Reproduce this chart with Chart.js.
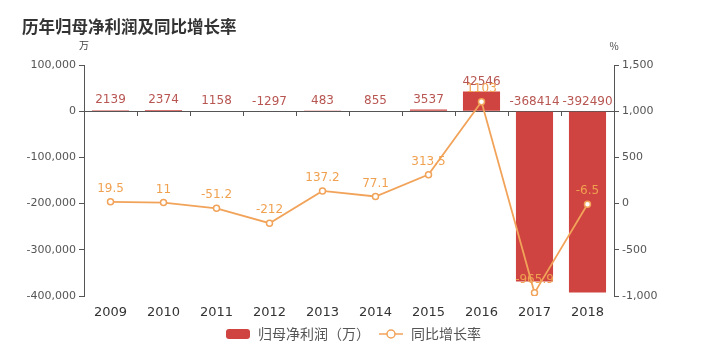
<!DOCTYPE html>
<html>
<head>
<meta charset="utf-8">
<script src="https://cdn.jsdelivr.net/npm/chart.js@4/dist/chart.umd.min.js"></script>
<style>
  html, body { margin: 0; padding: 0; background: #fff; }
  #wrap { width: 706px; height: 361px; position: relative; }
</style>
</head>
<body>
<div id="wrap"><canvas id="c" width="706" height="361"></canvas></div>
<script>
const years = ['2009', '2010', '2011', '2012', '2013', '2014', '2015', '2016', '2017', '2018'];
const profit = [2139, 2374, 1158, -1297, 483, 855, 3537, 42546, -368414, -392490];
const growth = [19.5, 11, -51.2, -212, 137.2, 77.1, 313.5, 1103, -965.9, -6.5];
const profitLabels = ['2139', '2374', '1158', '-1297', '483', '855', '3537', '42546', '-368414', '-392490'];
const growthLabels = ['19.5', '11', '-51.2', '-212', '137.2', '77.1', '313.5', '1103', '-965.9', '-6.5'];

const barColor = '#cf4440';
const lineColor = '#f2a35a';
const axisColor = '#555';
const font = '"DejaVu Sans", sans-serif';
const cjk = '"Noto Sans CJK SC", sans-serif';

// legend icons
function makeIcon(kind) {
    const cv = document.createElement('canvas');
    cv.width = 26; cv.height = 14;
    const g = cv.getContext('2d');
    if (kind === 'bar') {
        g.fillStyle = barColor;
        g.beginPath();
        g.roundRect(1, 2, 24, 10, 3);
        g.fill();
    } else {
        g.strokeStyle = lineColor;
        g.lineWidth = 1.5;
        g.beginPath();
        g.moveTo(1, 7); g.lineTo(25, 7);
        g.stroke();
        g.fillStyle = '#fff';
        g.beginPath();
        g.arc(13, 7, 4, 0, Math.PI * 2);
        g.fill(); g.stroke();
    }
    return cv;
}
const barIcon = makeIcon('bar');
const lineIcon = makeIcon('line');

const extras = {
    id: 'extras',
    beforeDatasetsDraw(chart) {
        const { ctx, chartArea, scales } = chart;
        const y0 = scales.y.getPixelForValue(0);
        const n = years.length;
        const step = (chartArea.right - chartArea.left) / n;
        ctx.save();
        ctx.strokeStyle = axisColor;
        ctx.lineWidth = 1;
        ctx.beginPath();
        ctx.moveTo(chartArea.left, Math.round(y0) + 0.5);
        ctx.lineTo(chartArea.right, Math.round(y0) + 0.5);
        for (let i = 0; i <= n; i++) {
            const x = Math.round(chartArea.left + i * step) + 0.5;
            ctx.moveTo(x, Math.round(y0));
            ctx.lineTo(x, Math.round(y0) + 5);
        }
        ctx.stroke();
        ctx.restore();
    },
    afterDatasetsDraw(chart) {
        const { ctx } = chart;
        ctx.save();
        ctx.textAlign = 'center';
        ctx.textBaseline = 'bottom';
        ctx.font = '12px ' + font;
        // bar labels
        ctx.fillStyle = '#b85652';
        chart.getDatasetMeta(0).data.forEach((bar, i) => {
            const top = Math.min(bar.y, bar.base);
            ctx.fillText(profitLabels[i], bar.x, top - 4);
        });
        // line labels
        ctx.fillStyle = '#f0a150';
        chart.getDatasetMeta(1).data.forEach((pt, i) => {
            ctx.fillText(growthLabels[i], pt.x, pt.y - 7);
        });
        ctx.restore();

        // title and units
        ctx.save();
        ctx.fillStyle = '#333';
        ctx.font = 'bold 16.5px ' + cjk;
        ctx.textBaseline = 'middle';
        ctx.textAlign = 'left';
        ctx.fillText('历年归母净利润及同比增长率', 22, 27);
        ctx.font = '10px ' + cjk;
        ctx.textAlign = 'center';
        ctx.fillStyle = '#444';
        ctx.fillText('万', chart.chartArea.left, 45);
        ctx.fillText('%', chart.chartArea.right, 46);
        ctx.restore();
    }
};

new Chart(document.getElementById('c'), {
    type: 'bar',
    data: {
        labels: years,
        datasets: [{
            label: '归母净利润（万）',
            data: profit,
            backgroundColor: barColor,
            yAxisID: 'y',
            barPercentage: 0.7,
            categoryPercentage: 1,
            order: 2
        }, {
            type: 'line',
            label: '同比增长率',
            data: growth,
            borderColor: lineColor,
            borderWidth: 1.8,
            pointRadius: 3,
            pointBackgroundColor: '#fff',
            pointBorderColor: lineColor,
            pointBorderWidth: 1.5,
            tension: 0,
            yAxisID: 'y1',
            order: 1
        }]
    },
    options: {
        responsive: false,
        animation: false,
        layout: { padding: { top: 65, left: 0, right: 0, bottom: 10 } },
        plugins: {
            tooltip: { enabled: false },
            legend: {
                position: 'bottom',
                labels: {
                    usePointStyle: true,
                    pointStyleWidth: 26,
                    padding: 8,
                    color: axisColor,
                    font: { size: 14, family: cjk },
                    generateLabels(chart) {
                        return chart.data.datasets.map((ds, i) => ({
                            text: ds.label,
                            datasetIndex: i,
                            pointStyle: i === 0 ? barIcon : lineIcon,
                            fillStyle: 'transparent',
                            strokeStyle: 'transparent',
                            lineWidth: 0,
                            fontColor: axisColor,
                            hidden: false
                        }));
                    }
                }
            }
        },
        scales: {
            x: {
                offset: true,
                grid: { display: false },
                border: { display: false },
                ticks: { color: '#333', font: { size: 13, family: font }, padding: 1 },
                afterFit(s) { s.height = 23; }
            },
            y: {
                position: 'left',
                min: -400000,
                max: 100000,
                ticks: {
                    stepSize: 100000,
                    color: axisColor,
                    font: { size: 11, family: font },
                    padding: 3,
                    callback: v => v.toLocaleString('en-US')
                },
                grid: { drawOnChartArea: false, drawTicks: true, tickLength: 5, color: axisColor },
                border: { display: true, color: axisColor },
                afterFit(s) { s.width = 84; }
            },
            y1: {
                position: 'right',
                min: -1000,
                max: 1500,
                ticks: {
                    stepSize: 500,
                    color: axisColor,
                    font: { size: 11, family: font },
                    padding: 3,
                    callback: v => v.toLocaleString('en-US')
                },
                grid: { drawOnChartArea: false, drawTicks: true, tickLength: 5, color: axisColor },
                border: { display: true, color: axisColor },
                afterFit(s) { s.width = 92; }
            }
        }
    },
    plugins: [extras]
});
</script>
</body>
</html>
